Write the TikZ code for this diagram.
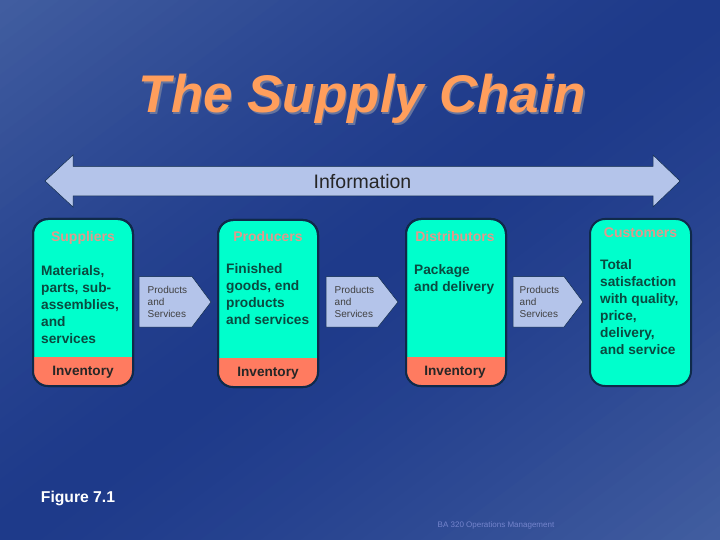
\documentclass[tikz,border=0pt]{standalone}
\usepackage{fontspec}
\setmainfont{Liberation Sans}
\definecolor{bglight}{HTML}{425EA0}
\definecolor{bgdark}{HTML}{1E3A8A}
\definecolor{boxfill}{HTML}{00FFCC}
\definecolor{invfill}{HTML}{FF7B60}
\definecolor{edgecol}{HTML}{0F2A4A}
\definecolor{arrowfill}{HTML}{B4C4EA}
\definecolor{headcol}{HTML}{E09A8C}
\definecolor{bodycol}{HTML}{0A4A40}
\definecolor{titlecol}{HTML}{FF9E5C}
\definecolor{titleshadow}{HTML}{66749E}
\definecolor{footcol}{HTML}{7484CC}
\tikzset{
  x=1pt,y=-1pt,
  stagebox/.style={draw=edgecol,line width=2pt,fill=boxfill,rounded corners=15pt},
  stageline/.style={draw=edgecol,line width=2pt,rounded corners=15pt},
  invband/.style={fill=invfill},
  flowarrow/.style={fill=arrowfill,draw=edgecol,line width=0.5pt,line join=miter},
  headtext/.style={inner sep=0pt,text=headcol,font=\fontsize{14}{16}\selectfont\bfseries},
  bodytext/.style={inner sep=0pt,anchor=north west,align=left,text=bodycol,font=\fontsize{13.7}{17}\selectfont\bfseries},
  invtext/.style={inner sep=0pt,text=black!85,font=\fontsize{13.6}{15}\selectfont\bfseries},
  flowtext/.style={inner sep=0pt,anchor=north west,align=left,text=black!75,font=\fontsize{10}{12}\selectfont},
}
\begin{document}
\begin{tikzpicture}
\useasboundingbox (0,0) rectangle (720,540);
% Diagonal background gradient: light corners top-left and bottom-right
\begin{scope}
\clip (0,0) rectangle (720,540);
\begin{scope}[shift={(360,270)},rotate=-53.13]
\foreach \i in {0,...,71}{
  \pgfmathsetmacro{\mixv}{100*(abs(\i+0.5-36)/36)^1.4}
  \pgfmathsetmacro{\ulo}{-432+\i*12}
  \pgfmathsetmacro{\uhi}{-432+\i*12+13}
  \fill[bglight!\mixv!bgdark] (\ulo,-600) rectangle (\uhi,600);
}
\end{scope}
\end{scope}

% Title
\node[anchor=base,inner sep=0pt,text=titleshadow,font=\fontsize{53}{60}\selectfont\bfseries\itshape] (titleshade) at (364,115) {The Supply Chain};
\node[anchor=base,inner sep=0pt,text=titlecol,font=\fontsize{53}{60}\selectfont\bfseries\itshape] (title) at (362.5,113) {The Supply Chain};

% Information arrow
\draw[flowarrow] (45,181) -- (73,155) -- (73,166.5) -- (653,166.5) -- (653,155) -- (680,181) -- (653,207) -- (653,196) -- (73,196) -- (73,207) -- cycle;
\node[inner sep=0pt,text=black!85,font=\fontsize{19.5}{21}\selectfont] (info) at (362.5,181.5) {Information};

% Stage boxes
\draw[stagebox] (33,219) rectangle (133,386);
\begin{scope}
\clip[rounded corners=15pt] (33,219) rectangle (133,386);
\fill[invband] (33,357) rectangle (133,386);
\end{scope}
\draw[stageline] (33,219) rectangle (133,386);

\draw[stagebox] (218,220) rectangle (318,387);
\begin{scope}
\clip[rounded corners=15pt] (218,220) rectangle (318,387);
\fill[invband] (218,358) rectangle (318,387);
\end{scope}
\draw[stageline] (218,220) rectangle (318,387);

\draw[stagebox] (406,219) rectangle (506,386);
\begin{scope}
\clip[rounded corners=15pt] (406,219) rectangle (506,386);
\fill[invband] (406,357) rectangle (506,386);
\end{scope}
\draw[stageline] (406,219) rectangle (506,386);

\draw[stagebox] (590,219) rectangle (691,386);

% Headings
\node[headtext] (supph) at (83,238) {Suppliers};
\node[headtext] (prodh) at (268,236) {Producers};
\node[headtext] (disth) at (455,236) {Distributors};
\node[headtext] (custh) at (640.5,233) {Customers};

% Body text
\node[bodytext] (suppb) at (41,265) {Materials,\\parts, sub-\\assemblies,\\and\\services};
\node[bodytext] (prodb) at (226,263) {Finished\\goods, end\\products\\and services};
\node[bodytext] (distb) at (414,264) {Package\\and delivery};
\node[bodytext] (custb) at (600,259) {Total\\satisfaction\\with quality,\\price,\\delivery,\\and service};

% Inventory
\node[invtext] (suppi) at (83,372) {Inventory};
\node[invtext] (prodi) at (268,373) {Inventory};
\node[invtext] (disti) at (455,372) {Inventory};

% Flow arrows
\draw[flowarrow] (139,276.5) -- (192,276.5) -- (211,302) -- (192,327) -- (139,327) -- cycle;
\node[flowtext] (flowa) at (147.5,286) {Products\\and\\Services};
\draw[flowarrow] (326,276.5) -- (378,276.5) -- (398,302) -- (378,327) -- (326,327) -- cycle;
\node[flowtext] (flowb) at (334.5,286) {Products\\and\\Services};
\draw[flowarrow] (513,276.5) -- (564,276.5) -- (583,302) -- (564,327) -- (513,327) -- cycle;
\node[flowtext] (flowc) at (519.5,286) {Products\\and\\Services};

% Captions
\node[inner sep=0pt,text=white,font=\fontsize{15.7}{18}\selectfont\bfseries] (fig) at (78,498) {Figure 7.1};
\node[inner sep=0pt,text=footcol,font=\fontsize{8}{10}\selectfont] (foot) at (496,525) {BA 320 Operations Management};
\end{tikzpicture}
\end{document}
